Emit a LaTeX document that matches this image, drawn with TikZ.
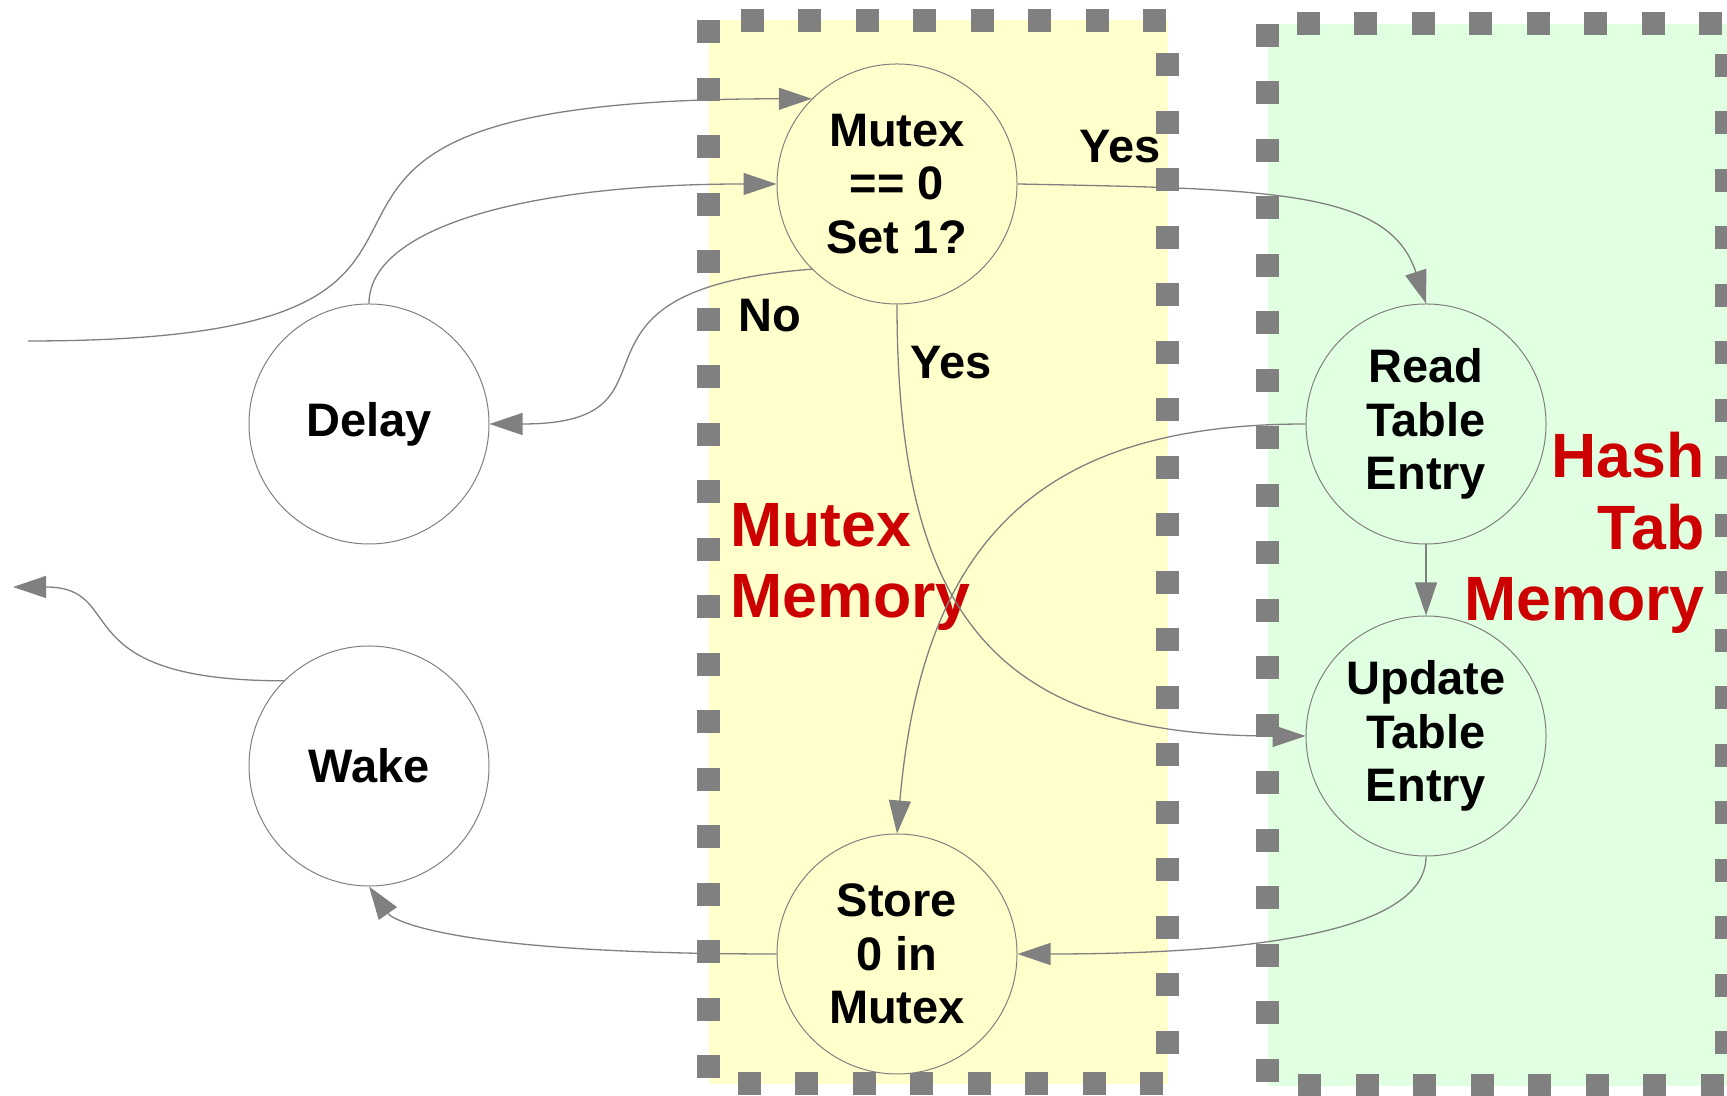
\documentclass[tikz,border=0pt]{standalone}
\usepackage{fontspec}
\setmainfont{Liberation Sans}
\usetikzlibrary{arrows.meta}

\definecolor{memyellow}{RGB}{255,255,204}
\definecolor{memgreen}{RGB}{225,255,225}
\definecolor{linegray}{RGB}{128,128,128}
\definecolor{memred}{RGB}{204,0,0}

\newcommand\statefont{\fontsize{23.5}{26.75}\selectfont\bfseries}
\newcommand\memfont{\fontsize{31.3}{35.8}\selectfont\bfseries}

\begin{document}
\begin{tikzpicture}[x=0.5pt,y=0.5pt,
  state/.style={circle,draw=linegray,line width=0.5pt,minimum size=120pt,inner sep=0pt,align=center,font=\statefont},
  flow/.style={draw=linegray,line width=0.65pt,-{Triangle[length=16.5pt,width=11pt]}},
  region/.style={draw=linegray,line width=11.5pt,dash pattern=on 11.5pt off 17.25pt},
  answer/.style={inner sep=0pt,font=\statefont},
  memlabel/.style={inner sep=0pt,text=memred,font=\memfont}]
\useasboundingbox (0,0) rectangle (1727,1096);
\clip (0,0) rectangle (1727,1096);

\draw[region,fill=memyellow] (708.5,1075.5) rectangle (1167.5,12);
\draw[region,fill=memgreen] (1267.5,1072) rectangle (1726.5,10);

\node[memlabel,align=left,anchor=base west] (mutexmem) at (730,478) {Mutex\\Memory};
\node[memlabel,align=right,anchor=base east] (hashmem) at (1705,475) {Hash\\Tab\\Memory};

\node[state,fill=memyellow] (mutex) at (897,912) {Mutex\\== 0\\Set 1?};
\node[state,fill=white] (delay) at (369,672) {Delay};
\node[state,fill=white] (wake) at (369,330) {Wake};
\node[state,fill=memyellow] (store) at (897,142) {Store\\0 in\\Mutex};
\node[state,fill=memgreen] (read) at (1426,672) {Read\\Table\\Entry};
\node[state,fill=memgreen] (update) at (1426,360) {Update\\Table\\Entry};

\coordinate (enter) at (28,755);
\coordinate (leave) at (13,509);

\node[answer,anchor=base west] (yesread) at (1079,933) {Yes};
\node[answer,anchor=base west] (no) at (738,764) {No};
\node[answer,anchor=base west] (yesupdate) at (910,717) {Yes};

\draw[flow] (enter) .. controls +(592,0) and +(-692,0) .. (mutex.135);
\draw[flow] (delay.north) .. controls +(0,74) and +(-257,0) .. (mutex.west);
\draw[flow] (mutex.225) .. controls +(-279,-21) and +(211,0) .. (delay.east);
\draw[flow] (mutex.east) .. controls +(250,-5) and +(108:120) .. (read.north);
\draw[flow] (mutex.south) .. controls +(0,-316) and +(-306,0) .. (update.west);
\draw[flow] (read.west) .. controls +(-260,0) and +(85:300) .. (store.north);
\draw[flow] (read) -- (update);
\draw[flow] (update.south) .. controls +(0,-80) and +(213,0) .. (store.east);
\draw[flow] (store.west) .. controls +(-330,0) and +(-55:40) .. (wake.south);
\draw[flow] (wake.135) .. controls +(-224,0) and +(117,0) .. (leave);
\end{tikzpicture}
\end{document}
